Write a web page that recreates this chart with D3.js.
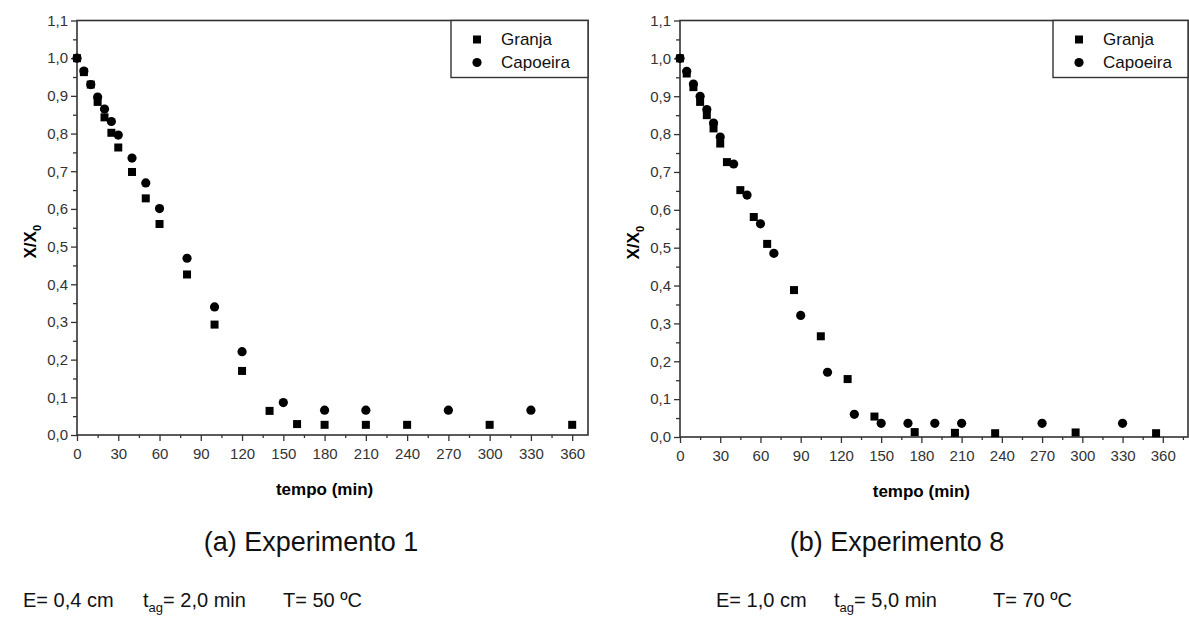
<!DOCTYPE html>
<html lang="pt">
<head>
<meta charset="utf-8">
<title>Experimentos 1 e 8</title>
<style>
  body { margin: 0; background: #fff; }
  svg { font-family: "Liberation Sans", Arial, sans-serif; }
</style>
</head>
<body>
<svg width="1189" height="626"></svg>
<script src="https://d3js.org/d3.v7.min.js"></script>
<script>
// Experimento 1
var tempoGranja1 = [0, 5, 10, 15, 20, 25, 30, 40, 50, 60, 80, 100, 120, 140, 160, 180, 210, 240, 300, 360];
var granja1 = [1.0, 0.963, 0.930, 0.884, 0.843, 0.802, 0.763, 0.698, 0.628, 0.560, 0.426, 0.293, 0.170, 0.064, 0.029, 0.027, 0.027, 0.027, 0.027, 0.027];
var tempoCapoeira1 = [0, 5, 10, 15, 20, 25, 30, 40, 50, 60, 80, 100, 120, 150, 180, 210, 270, 330];
var capoeira1 = [1.0, 0.966, 0.930, 0.897, 0.865, 0.832, 0.796, 0.735, 0.669, 0.601, 0.469, 0.340, 0.221, 0.086, 0.066, 0.066, 0.066, 0.066];

// Experimento 8
var tempoGranja8 = [0, 5, 10, 15, 20, 25, 30, 35, 45, 55, 65, 85, 105, 125, 145, 175, 205, 235, 295, 355];
var granja8 = [1.0, 0.960, 0.924, 0.885, 0.850, 0.815, 0.775, 0.726, 0.652, 0.581, 0.510, 0.388, 0.266, 0.153, 0.054, 0.013, 0.011, 0.010, 0.012, 0.010];
var tempoCapoeira8 = [0, 5, 10, 15, 20, 25, 30, 40, 50, 60, 70, 90, 110, 130, 150, 170, 190, 210, 270, 330];
var capoeira8 = [1.0, 0.966, 0.932, 0.900, 0.865, 0.829, 0.792, 0.721, 0.639, 0.563, 0.485, 0.321, 0.171, 0.060, 0.036, 0.036, 0.036, 0.036, 0.036, 0.036];

var xTicks = [0, 30, 60, 90, 120, 150, 180, 210, 240, 270, 300, 330, 360];
var yTicks = [0, 0.1, 0.2, 0.3, 0.4, 0.5, 0.6, 0.7, 0.8, 0.9, 1.0, 1.1];
var seriesNames = ["Granja", "Capoeira"];

var titles = ["(a) Experimento 1", "(b) Experimento 8"];
var condE = ["E= 0,4 cm", "E= 1,0 cm"];
var condT = ["2,0 min", "5,0 min"];
var condTemp = ["T= 50 ºC", "T= 70 ºC"];

var svg = d3.select("svg");
var axisColor = "#333";
var fmt = function(d) { return d3.format(".1f")(d).replace(".", ","); };

function panel(o) {
  var x = d3.scaleLinear().domain([0, o.xMax]).range([o.left, o.right]);
  var y = d3.scaleLinear().domain([0, 1.1]).range([o.bottom, o.top]);
  var g = svg.append("g");

  // minor ticks
  g.append("g")
      .attr("transform", "translate(0," + o.bottom + ")")
      .call(d3.axisBottom(x).tickValues(d3.range(15, o.xMax, 30)).tickSize(3).tickFormat(""))
      .call(function(a) { a.select(".domain").remove(); });
  g.append("g")
      .attr("transform", "translate(" + o.left + ",0)")
      .call(d3.axisLeft(y).tickValues(d3.range(0.05, 1.1, 0.1)).tickSize(4).tickFormat(""))
      .call(function(a) { a.select(".domain").remove(); });

  g.append("g")
      .attr("transform", "translate(0," + o.bottom + ")")
      .call(d3.axisBottom(x).tickValues(xTicks).tickSize(6).tickSizeOuter(0).tickPadding(7));
  g.append("g")
      .attr("transform", "translate(" + o.left + ",0)")
      .call(d3.axisLeft(y).tickValues(yTicks).tickSize(6).tickSizeOuter(0).tickPadding(3).tickFormat(fmt));

  g.selectAll(".tick line").attr("stroke", axisColor).attr("stroke-width", 1.3);
  g.selectAll(".domain").remove();
  g.selectAll(".tick text").attr("fill", "#333").style("font-size", "15px");

  // frame
  g.append("rect")
      .attr("x", o.left).attr("y", o.top)
      .attr("width", o.right - o.left).attr("height", o.bottom - o.top)
      .attr("fill", "none").attr("stroke", axisColor).attr("stroke-width", 1.6);

  // points
  var gr = d3.zip(o.tg, o.g), cp = d3.zip(o.tc, o.c);
  g.selectAll("rect.granja").data(gr).enter().append("rect")
      .attr("class", "granja")
      .attr("x", function(d) { return x(d[0]) - 4; })
      .attr("y", function(d) { return y(d[1]) - 4; })
      .attr("width", 8).attr("height", 8)
      .attr("fill", "#000");
  g.selectAll("circle.capoeira").data(cp).enter().append("circle")
      .attr("class", "capoeira")
      .attr("cx", function(d) { return x(d[0]); })
      .attr("cy", function(d) { return y(d[1]); })
      .attr("r", 4.6)
      .attr("fill", "#000");

  // legend
  var lg = g.append("g").attr("transform", "translate(" + o.legX + "," + o.top + ")");
  lg.append("rect")
      .attr("width", o.right - o.legX).attr("height", 57)
      .attr("fill", "#fff").attr("stroke", axisColor).attr("stroke-width", 1.4);
  lg.append("rect").attr("x", 22).attr("y", 15).attr("width", 8).attr("height", 8).attr("fill", "#000");
  lg.append("circle").attr("cx", 26).attr("cy", 42).attr("r", 4.6).attr("fill", "#000");
  lg.selectAll("text.leg").data(seriesNames).enter().append("text")
      .attr("class", "leg")
      .attr("x", 50).attr("y", function(d, i) { return 19 + i * 23; })
      .attr("dy", "0.35em")
      .style("font-size", "17px").attr("fill", "#111")
      .text(function(d) { return d; });

  // axis titles
  g.append("text")
      .attr("x", (o.left + x(360)) / 2).attr("y", o.bottom + 60)
      .attr("text-anchor", "middle")
      .style("font-size", "17px").style("font-weight", "bold")
      .text("tempo (min)");
  var yl = g.append("text")
      .attr("transform", "translate(" + (o.left - 41) + "," + ((o.top + o.bottom) / 2 + 14) + ") rotate(-90)")
      .attr("text-anchor", "middle")
      .style("font-size", "17px").style("font-weight", "bold");
  yl.append("tspan").text("X/X");
  yl.append("tspan").attr("dy", 5).style("font-size", "11px").text("0");

  // captions
  svg.append("text")
      .attr("x", o.capX).attr("y", 551)
      .attr("text-anchor", "middle")
      .style("font-size", "27px").attr("fill", "#111")
      .text(o.title);
  var c = svg.append("g").style("font-size", "20px").attr("fill", "#111");
  c.append("text").attr("x", o.eX).attr("y", 607).text(o.e);
  var t = c.append("text").attr("x", o.tX).attr("y", 607);
  t.append("tspan").text("t");
  t.append("tspan").attr("dy", 5).style("font-size", "13px").text("ag");
  t.append("tspan").attr("dy", -5).text("= " + o.tv);
  c.append("text").attr("x", o.TX).attr("y", 607).text(o.temp);
}

panel({ left: 77, right: 588, top: 20.5, bottom: 435, xMax: 371.5,
  tg: tempoGranja1, g: granja1, tc: tempoCapoeira1, c: capoeira1,
  legX: 451, capX: 311, title: titles[0],
  eX: 23, e: condE[0], tX: 143, tv: condT[0], TX: 283, temp: condTemp[0] });

panel({ left: 680, right: 1188, top: 20.5, bottom: 437, xMax: 378.8,
  tg: tempoGranja8, g: granja8, tc: tempoCapoeira8, c: capoeira8,
  legX: 1053, capX: 897, title: titles[1],
  eX: 716, e: condE[1], tX: 834, tv: condT[1], TX: 993, temp: condTemp[1] });
</script>
</body>
</html>
